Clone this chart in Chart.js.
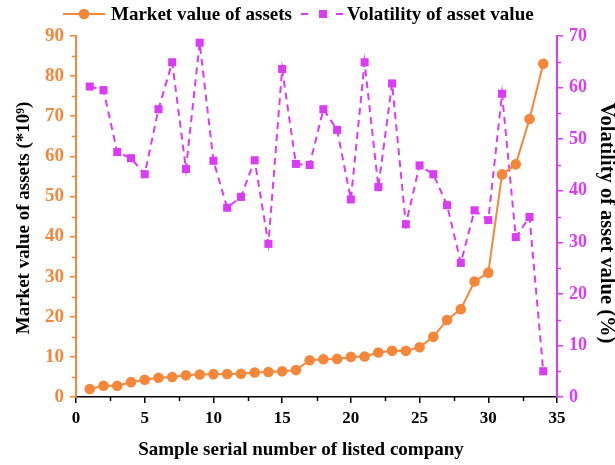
<!DOCTYPE html>
<html lang="en">
<head>
<meta charset="UTF-8">
<title>Market value and volatility of assets</title>
<script src="https://cdn.jsdelivr.net/npm/chart.js"></script>
<style>
  html, body { margin: 0; padding: 0; background: #fff; }
  #wrap { width: 615px; height: 465px; }
</style>
</head>
<body>
<div id="wrap"><canvas id="chart" width="615" height="465"></canvas></div>
<script>
// sample serial numbers of the listed companies
const sampleNo = [1, 2, 3, 4, 5, 6, 7, 8, 9, 10, 11, 12, 13, 14, 15, 16, 17,
                  18, 19, 20, 21, 22, 23, 24, 25, 26, 27, 28, 29, 30, 31, 32, 33, 34];
// market value of assets (*10^9)
const marketValue = [2.0, 2.8, 2.8, 3.7, 4.3, 4.8, 5.0, 5.4, 5.6, 5.7, 5.75, 5.8, 6.1, 6.25, 6.4, 6.7, 9.15,
                     9.4, 9.5, 10.0, 10.1, 11.1, 11.5, 11.5, 12.4, 15.0, 19.2, 21.9, 28.8, 31.0, 55.5, 58.0, 69.3, 83.1];
// volatility of asset value (%)
const volatility = [60.2, 59.5, 47.5, 46.3, 43.2, 55.8, 64.9, 44.2, 68.7, 45.8, 36.7, 38.8, 45.9, 29.7, 63.6, 45.2, 45.0,
                    55.8, 51.8, 38.3, 64.9, 40.7, 60.8, 33.5, 44.9, 43.2, 37.2, 26.0, 36.2, 34.3, 58.8, 31.0, 34.9, 5.0];

const ORANGE = '#F5873A';
const MAGENTA = '#DA3CF5';
const SERIF = "'Liberation Serif', 'Times New Roman', serif";

const marketPoints = sampleNo.map((n, i) => ({ x: n, y: marketValue[i] }));
const volPoints = sampleNo.map((n, i) => ({ x: n, y: volatility[i] }));

// short ticks halfway between the labelled ones
const minorTicks = {
  id: 'minorTicks',
  afterDraw(chart) {
    const { ctx, scales } = chart;
    const len = 4;
    ctx.save();
    ctx.lineWidth = 1.5;
    ctx.strokeStyle = '#000';
    for (let v = 2.5; v < 35; v += 5) {
      const px = Math.round(scales.x.getPixelForValue(v)) + 0.5;
      ctx.beginPath(); ctx.moveTo(px, scales.x.top); ctx.lineTo(px, scales.x.top + len); ctx.stroke();
    }
    ctx.strokeStyle = ORANGE;
    for (let v = 5; v < 90; v += 10) {
      const py = Math.round(scales.y.getPixelForValue(v)) + 0.5;
      ctx.beginPath(); ctx.moveTo(scales.y.right, py); ctx.lineTo(scales.y.right - len, py); ctx.stroke();
    }
    ctx.strokeStyle = MAGENTA;
    for (let v = 5; v < 70; v += 10) {
      const py = Math.round(scales.y1.getPixelForValue(v)) + 0.5;
      ctx.beginPath(); ctx.moveTo(scales.y1.left, py); ctx.lineTo(scales.y1.left + len, py); ctx.stroke();
    }
    ctx.restore();
  }
};

// axis titles, placed by hand
const axisTitles = {
  id: 'axisTitles',
  afterDraw(chart) {
    const ctx = chart.ctx;
    ctx.save();
    ctx.fillStyle = '#000';
    ctx.textAlign = 'center';
    ctx.textBaseline = 'middle';

    ctx.font = "bold 19px " + SERIF;
    ctx.fillText('Sample serial number of listed company', 301, 450);

    ctx.save();
    ctx.translate(24, 218);
    ctx.rotate(-Math.PI / 2);
    ctx.font = "bold 19px " + SERIF;
    ctx.fillText('Market value of assets (*10⁹)', 0, 0);
    ctx.restore();

    ctx.save();
    ctx.translate(606, 223);
    ctx.rotate(Math.PI / 2);
    ctx.font = "bold 20.5px " + SERIF;
    ctx.fillText('Volatility of asset value (%)', 0, 0);
    ctx.restore();

    ctx.restore();
  }
};

// legend across the top: line + marker, then the series name
const topLegend = {
  id: 'topLegend',
  afterDraw(chart) {
    const ctx = chart.ctx;
    const y = 14;
    ctx.save();
    ctx.font = "bold 19px " + SERIF;
    ctx.textBaseline = 'middle';
    ctx.fillStyle = '#000';

    ctx.strokeStyle = ORANGE;
    ctx.lineWidth = 2;
    ctx.beginPath(); ctx.moveTo(63, y); ctx.lineTo(105, y); ctx.stroke();
    ctx.fillStyle = ORANGE;
    ctx.beginPath(); ctx.arc(84, y, 5.3, 0, Math.PI * 2); ctx.fill();
    ctx.fillStyle = '#000';
    ctx.fillText('Market value of assets', 111, y + 1);

    ctx.strokeStyle = MAGENTA;
    ctx.beginPath(); ctx.moveTo(301, y); ctx.lineTo(308, y); ctx.stroke();
    ctx.beginPath(); ctx.moveTo(336, y); ctx.lineTo(343, y); ctx.stroke();
    ctx.fillStyle = MAGENTA;
    ctx.fillRect(319, y - 4, 8, 8);
    ctx.fillStyle = '#000';
    ctx.fillText('Volatility of asset value', 347, y + 1);
    ctx.restore();
  }
};

new Chart(document.getElementById('chart'), {
  type: 'line',
  data: {
    datasets: [
      {
        label: 'Volatility of asset value',
        data: volPoints,
        yAxisID: 'y1',
        borderColor: MAGENTA,
        backgroundColor: MAGENTA,
        borderWidth: 2,
        borderDash: [7, 5],
        pointStyle: 'rect',
        pointRadius: 5.7,
        pointBorderWidth: 0,
        tension: 0,
        order: 2
      },
      {
        label: 'Market value of assets',
        data: marketPoints,
        yAxisID: 'y',
        borderColor: ORANGE,
        backgroundColor: ORANGE,
        borderWidth: 2,
        pointStyle: 'circle',
        pointRadius: 5.3,
        pointBorderWidth: 0,
        tension: 0,
        order: 1
      }
    ]
  },
  options: {
    responsive: false,
    animation: false,
    devicePixelRatio: 1,
    layout: { padding: { top: 36, left: 0, right: 0, bottom: 0 } },
    plugins: {
      legend: { display: false },
      tooltip: { enabled: false }
    },
    scales: {
      x: {
        type: 'linear',
        min: 0, max: 35,
        afterFit: s => { s.height = 68; },
        ticks: { stepSize: 5, color: '#000', padding: 5, font: { family: SERIF, size: 17, weight: 'bold' } },
        grid: { drawOnChartArea: false, drawTicks: true, tickLength: 6, color: '#000', lineWidth: 1.5 },
        border: { display: true, color: '#000', width: 1.5 }
      },
      y: {
        position: 'left',
        min: 0, max: 90,
        afterFit: s => { s.width = 76; },
        ticks: { stepSize: 10, color: ORANGE, padding: 6, font: { family: SERIF, size: 19, weight: 'bold' } },
        grid: { drawOnChartArea: false, drawTicks: true, tickLength: 6, color: ORANGE, lineWidth: 1.5 },
        border: { display: true, color: ORANGE, width: 2 }
      },
      y1: {
        position: 'right',
        min: 0, max: 70,
        afterFit: s => { s.width = 58; },
        ticks: { stepSize: 10, color: MAGENTA, padding: 6, font: { family: SERIF, size: 18, weight: 'bold' } },
        grid: { drawOnChartArea: false, drawTicks: true, tickLength: 6, color: MAGENTA, lineWidth: 1.5 },
        border: { display: true, color: MAGENTA, width: 2 }
      }
    }
  },
  plugins: [minorTicks, axisTitles, topLegend]
});
</script>
</body>
</html>
